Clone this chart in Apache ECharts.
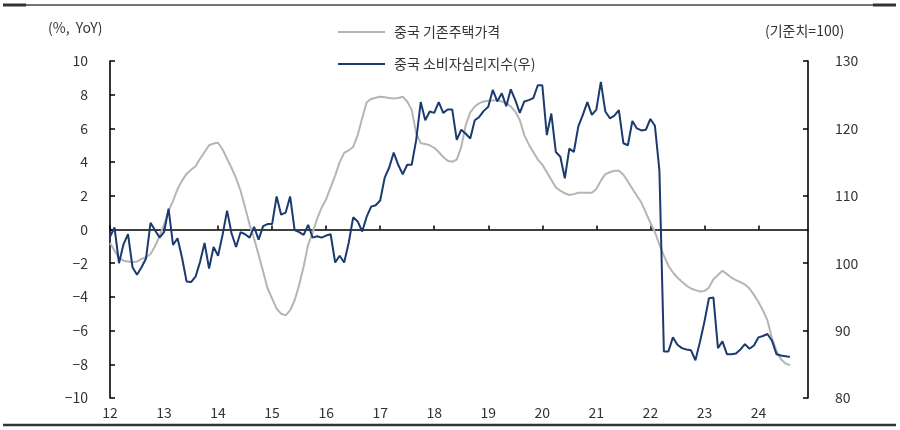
<!DOCTYPE html>
<html>
<head>
<meta charset="utf-8">
<script src="https://cdn.jsdelivr.net/npm/echarts@6/dist/echarts.min.js"></script>
<style>html,body{margin:0;padding:0;background:#fff}#c{width:900px;height:430px}</style>
</head>
<body>
<div id="c"></div>
<script>
// Years shown on the x axis (monthly axis Jan 2012 – Dec 2024)
var years = [12,13,14,15,16,17,18,19,20,21,22,23,24];
var categories = [];
years.forEach(function(y){ for (var m = 1; m <= 12; m++) categories.push(y + '-' + (m < 10 ? '0' + m : m)); });

// 중국 기존주택가격 (%, YoY), monthly from Jan 2012
var housePrice = [
 -0.8,-1.25,-1.7,-1.85,-1.9,-1.95,-1.9,-1.75,-1.65,-1.45,-1.0,-0.4,
 0.3,1.1,1.7,2.4,2.9,3.3,3.55,3.75,4.2,4.6,5.0,5.1,
 5.15,4.75,4.2,3.65,3.05,2.3,1.3,0.3,-0.55,-1.5,-2.5,-3.5,
 -4.1,-4.7,-5.0,-5.1,-4.8,-4.2,-3.3,-2.2,-0.9,-0.2,0.65,1.3,
 1.8,2.5,3.2,4.0,4.55,4.7,4.9,5.6,6.6,7.55,7.75,7.82,
 7.88,7.85,7.8,7.78,7.8,7.88,7.6,7.1,5.7,5.12,5.08,5.0,
 4.85,4.6,4.3,4.08,4.02,4.15,4.9,6.2,6.95,7.3,7.5,7.6,
 7.64,7.66,7.69,7.6,7.5,7.3,7.0,6.5,5.6,5.05,4.6,4.15,
 3.85,3.4,2.95,2.5,2.3,2.15,2.05,2.1,2.18,2.18,2.18,2.18,
 2.4,2.9,3.29,3.4,3.49,3.49,3.25,2.85,2.42,2.0,1.6,1.0,
 0.4,-0.15,-0.9,-1.55,-2.15,-2.55,-2.85,-3.1,-3.33,-3.5,-3.6,-3.68,
 -3.65,-3.45,-2.95,-2.7,-2.45,-2.65,-2.85,-3.0,-3.12,-3.27,-3.5,-3.88,
 -4.3,-4.8,-5.4,-6.45,-7.2,-7.7,-7.95,-8.05
];

// 중국 소비자심리지수 (기준치=100), right axis, monthly from Jan 2012
var consumerSentiment = [
 103.9,105.3,100.0,102.8,104.3,99.4,98.3,99.4,100.7,106.0,104.9,103.8,
 104.6,108.1,102.7,103.7,100.8,97.3,97.2,98.0,100.2,103.0,99.2,102.4,
 101.1,104.2,107.8,104.4,102.4,104.6,104.3,103.8,105.4,103.5,105.5,105.8,
 105.8,109.9,107.2,107.5,109.9,104.9,104.6,104.2,105.7,103.8,104.0,103.8,
 104.1,104.3,100.1,101.1,100.1,103.0,106.8,106.2,104.7,106.9,108.4,108.6,
 109.3,112.7,114.2,116.4,114.6,113.2,114.6,114.6,118.3,123.9,121.2,122.5,
 122.3,123.9,122.3,122.8,122.8,118.3,119.8,119.2,118.5,121.2,121.7,122.6,
 123.2,125.7,124.0,125.2,123.3,125.8,124.2,122.3,124.0,124.2,124.5,126.4,
 126.4,119.0,122.2,116.5,115.8,112.6,117.0,116.5,120.3,122.0,123.9,122.0,
 122.8,126.9,122.5,121.5,121.9,122.7,117.8,117.5,121.1,120.0,119.7,119.8,
 121.4,120.4,113.8,86.9,86.9,89.0,87.9,87.4,87.2,87.1,85.6,88.3,
 91.3,94.8,94.9,87.4,88.4,86.5,86.5,86.6,87.2,88.0,87.3,87.8,
 89.0,89.2,89.5,88.5,86.5,86.3,86.2,86.1
];

var leftTicks = {min: -10, max: 10, interval: 2};
var rightTicks = {min: 80, max: 130, interval: 10};

var FONT = 'Noto Sans CJK KR';
var yearStart = function(i){ return i % 12 === 0; };
var chart = echarts.init(document.getElementById('c'));
chart.setOption({
  animation: false,
  textStyle: {fontFamily: FONT},
  grid: {left: 110, right: 92, top: 61, bottom: 32, containLabel: false, outerBoundsMode: 'none'},
  legend: {
    orient: 'vertical', left: 333, top: 20, icon: 'rect', itemWidth: 47, itemHeight: 2, itemGap: 18,
    textStyle: {fontSize: 14, color: '#333', fontFamily: FONT, padding: [0, 0, 0, 4]},
    data: ['중국 기존주택가격', '중국 소비자심리지수(우)']
  },
  xAxis: [
    {
      type: 'category', data: categories, boundaryGap: false, position: 'bottom',
      axisLine: {onZero: true, lineStyle: {color: '#000', width: 1.6}},
      axisTick: {inside: true, length: 4, lineStyle: {color: '#000', width: 1.5}, interval: yearStart},
      axisLabel: {show: false},
      splitLine: {show: false}
    },
    {
      type: 'category', data: categories, boundaryGap: false, position: 'bottom',
      axisLine: {show: false, onZero: false},
      axisTick: {show: false},
      axisLabel: {show: true, margin: 8, color: '#333', fontSize: 14, fontFamily: FONT,
        interval: yearStart, formatter: function(v){ return v.split('-')[0]; }},
      splitLine: {show: false}
    }
  ],
  yAxis: [
    {type: 'value', min: leftTicks.min, max: leftTicks.max, interval: leftTicks.interval,
      axisLine: {show: true, lineStyle: {color: '#000', width: 1.6}},
      axisTick: {show: true, inside: true, length: 5, lineStyle: {color: '#000', width: 1.5}},
      axisLabel: {margin: 22, color: '#333', fontSize: 14, fontFamily: FONT,
        formatter: function(v){ return String(v).replace('-', '\u2212'); }},
      splitLine: {show: false}},
    {type: 'value', min: rightTicks.min, max: rightTicks.max, interval: rightTicks.interval, position: 'right',
      axisLine: {show: true, lineStyle: {color: '#000', width: 1.6}},
      axisTick: {show: true, inside: true, length: 5, lineStyle: {color: '#000', width: 1.5}},
      axisLabel: {margin: 27, color: '#333', fontSize: 14, fontFamily: FONT},
      splitLine: {show: false}}
  ],
  series: [
    {name: '중국 기존주택가격', type: 'line', xAxisIndex: 0, yAxisIndex: 0, data: housePrice, symbol: 'none',
      lineStyle: {color: '#b5b5b5', width: 2}, itemStyle: {color: '#b5b5b5'}, z: 2},
    {name: '중국 소비자심리지수(우)', type: 'line', xAxisIndex: 0, yAxisIndex: 1, data: consumerSentiment, symbol: 'none',
      lineStyle: {color: '#1b3a6f', width: 2}, itemStyle: {color: '#1b3a6f'}, z: 3}
  ],
  graphic: [
    {type: 'text', left: 48, top: 21, style: {text: '(%,  YoY)', fontSize: 14, fill: '#333', fontFamily: FONT}},
    {type: 'text', left: 765, top: 24, style: {text: '(기준치=100)', fontSize: 14, fill: '#333', fontFamily: FONT}},
    {type: 'line', shape: {x1: 3, y1: 5, x2: 896, y2: 5}, style: {stroke: '#444', lineWidth: 1.5}},
    {type: 'line', shape: {x1: 3, y1: 5, x2: 26, y2: 5}, style: {stroke: '#333', lineWidth: 3}},
    {type: 'line', shape: {x1: 873, y1: 5, x2: 896, y2: 5}, style: {stroke: '#333', lineWidth: 3}},
    {type: 'line', shape: {x1: 3, y1: 425, x2: 896, y2: 425}, style: {stroke: '#333', lineWidth: 2.5}}
  ]
});
</script>
</body>
</html>
